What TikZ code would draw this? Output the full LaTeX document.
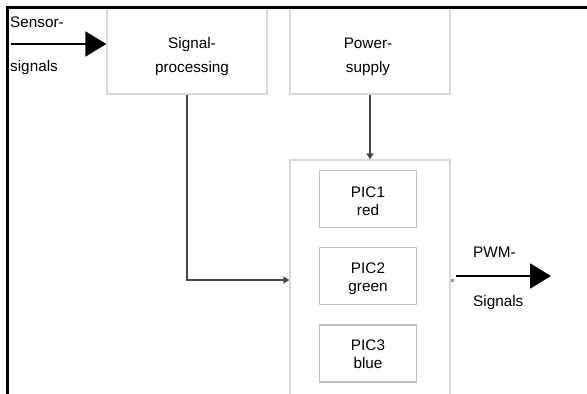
\documentclass[tikz,border=0pt]{standalone}
\usepackage{fontspec}
\setmainfont{Liberation Sans}
\usetikzlibrary{arrows.meta}
\begin{document}
\begin{tikzpicture}[x=1pt,y=-1pt,
  outerbox/.style={draw=black!15,line width=1.3pt,fill=white,rectangle,inner sep=0pt},
  picbox/.style={draw=black!25,line width=1.8pt,fill=white,rectangle,inner sep=0pt,minimum width=97pt,minimum height=57pt},
  txt/.style={anchor=base,inner sep=0pt,font=\fontsize{15.3}{18}\selectfont},
  txtl/.style={anchor=base west,inner sep=0pt,font=\fontsize{15.3}{18}\selectfont},
  bigarrow/.style={line width=2.2pt,-{Triangle[length=21pt,width=25pt]}},
  smallarrow/.style={line width=2.2pt,draw=black!72,-{Triangle[length=6pt,width=7pt]}},
  frameline/.style={line width=3pt,black}]
\useasboundingbox (0,0) rectangle (587,394);
\clip (0,0) rectangle (587,394);
% boxes
\node[outerbox,minimum width=160pt,minimum height=86pt] (sig) at (187,51) {};
\node[outerbox,minimum width=160pt,minimum height=86pt] (pow) at (370,51) {};
\node[outerbox,minimum width=160pt,minimum height=240pt] (big) at (370,280) {};
\node[picbox] (p1) at (368,199) {};
\node[picbox] (p2) at (368,276) {};
\node[picbox] (p3) at (368,353.5) {};
% frame
\draw[frameline] (5.5,7) -- (587,7);
\draw[frameline] (7,7) -- (7,394);
% texts
\node[txt] (t1a) at (192,48) {Signal-};
\node[txt] (t1b) at (192,72) {processing};
\node[txt] (t2a) at (368,48) {Power-};
\node[txt] (t2b) at (368,72) {supply};
\node[txt] (t3a) at (368,197) {PIC1};
\node[txt] (t3b) at (368,215) {red};
\node[txt] (t4a) at (368,273) {PIC2};
\node[txt] (t4b) at (368,291) {green};
\node[txt] (t5a) at (368,350) {PIC3};
\node[txt] (t5b) at (368,368) {blue};
\node[txtl] (s1) at (10,27) {Sensor-};
\node[txtl] (s2) at (10,71) {signals};
\node[txtl] (w1) at (473,257) {PWM-};
\node[txtl] (w2) at (473,306) {Signals};
% connectors
\coordinate (sin) at (11,44);
\draw[bigarrow] (sin) -- (sin -| sig.west);
\draw[smallarrow] (sig.south) |- (big.west);
\draw[smallarrow] (pow.south) -- (big.north);
\coordinate (pwms) at (456,276);
\coordinate (pwme) at (551,276);
\draw[bigarrow] (pwms) -- (pwme);
\fill[black!40] (451,279) rectangle (454,282);
\end{tikzpicture}
\end{document}
